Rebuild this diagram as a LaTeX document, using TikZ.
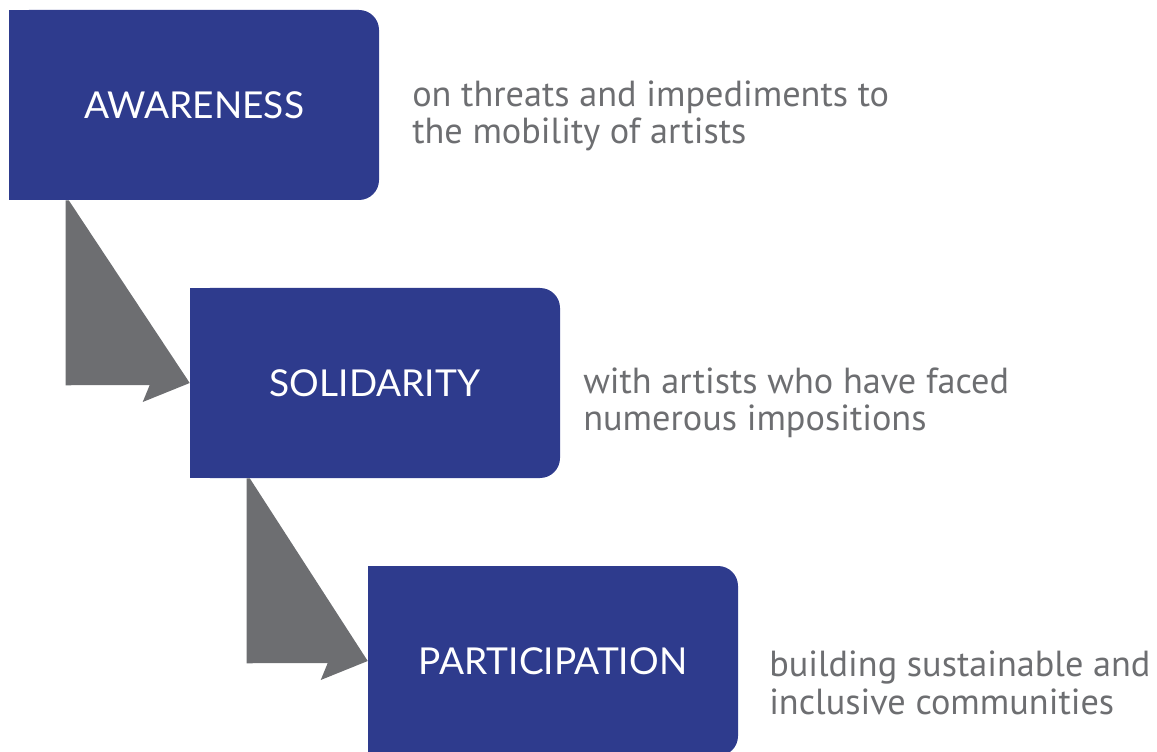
\documentclass[tikz,border=0pt]{standalone}
\usepackage{fontspec}
\setmainfont{Lato}
\newfontfamily\descfont{PT Sans}
\usetikzlibrary{calc}

\definecolor{boxblue}{HTML}{2E3B8D}
\definecolor{arrowgrey}{HTML}{6D6E71}

\tikzset{
    stagebox/.style={fill=boxblue, rounded corners=15pt, minimum width=277.5pt,
        minimum height=142.5pt, text=white, font=\fontsize{27.8}{32}\selectfont,
        inner sep=0pt},
    stagetext/.style={anchor=west, align=left, text=arrowgrey, inner sep=0pt,
        font=\descfont\fontsize{27.2}{28}\selectfont},
}

\begin{document}
\begin{tikzpicture}[x=0.75pt,y=-0.75pt]
        % Fix the page size
        \useasboundingbox (0,0) rectangle (1157,752);

        % Draw the three stages
        \node[stagebox] (aware) at (194,105) {AWARENESS};
        \node[stagebox] (solid) at (375,383) {SOLIDARITY};
        \node[stagebox] (partic) at (553,661) {PARTICIPATION};

        % Square off the left corners
        \foreach \b in {aware,solid,partic}
            \fill[boxblue] (\b.north west) rectangle ($(\b.south west)+(25,0)$);

        % Draw the arrows between the stages
        \foreach \a/\b in {aware/solid,solid/partic}
            \fill[arrowgrey] ($(\a.south west)+(57,0)$) -- ($(\a.south west)+(60,0)$)
                -- (\b.west) -- ($(\b.west)+(-47,19)$) -- ($(\b.west)+(-40,2)$)
                -- ($(\a.south west)+(57,185)$) -- cycle;

        % Labels
        \node[stagetext] (awaretxt) at (412,116) {on threats and impediments to\\the mobility of artists};
        \node[stagetext] (solidtxt) at (583,403) {with artists who have faced\\numerous impositions};
        \node[stagetext] (partictxt) at (769,683) {building sustainable and\\inclusive communities};
\end{tikzpicture}
\end{document}
